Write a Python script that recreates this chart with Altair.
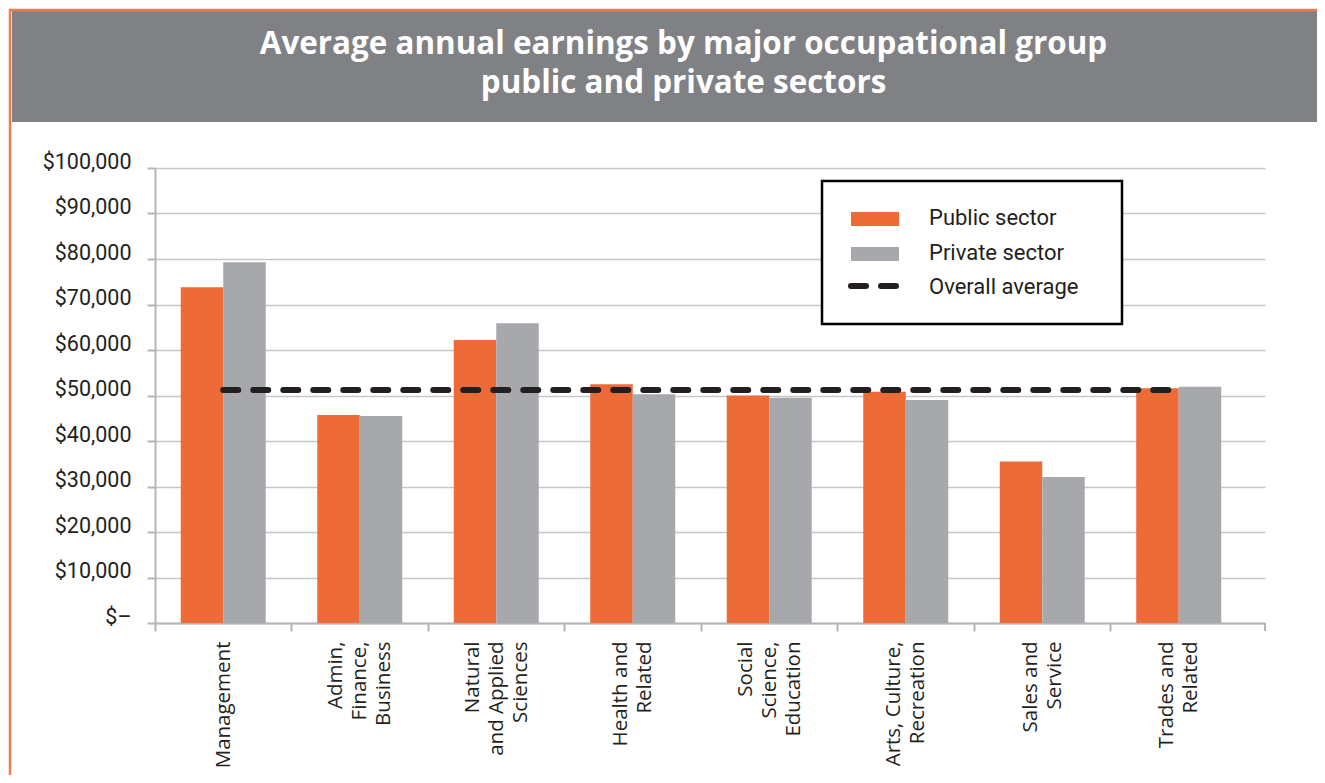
import altair as alt
import pandas as pd

# ---------------- data ----------------
categories = [
    "Management",
    "Admin,|Finance,|Business",
    "Natural|and Applied|Sciences",
    "Health and|Related",
    "Social|Science,|Education",
    "Arts, Culture,|Recreation",
    "Sales and|Service",
    "Trades and|Related",
]
public_sector = [73800, 45700, 62200, 52500, 50000, 50800, 35500, 51600]
private_sector = [79300, 45500, 65900, 50300, 49500, 49000, 32100, 51900]
overall_average = 51200
sectors = ["Public sector", "Private sector"]
y_ticks = [0, 10000, 20000, 30000, 40000, 50000, 60000, 70000, 80000, 90000, 100000]
title_lines = [
    "Average annual earnings by major occupational group",
    "public and private sectors",
]
legend_labels = ["Public sector", "Private sector", "Overall average"]

# ---------------- styles ----------------
W, H = 1110, 455
ORANGE = "#EC6B37"
GRAY = "#A7A8AB"
DARK = "#231F20"
HEAD = "#808185"
BORDER = "#EF7B4A"
AX = "#B4B5B8"
GRID = "#C6C7C9"
LINE_H = 24
HALF_STEP = 68.25

bars_df = pd.DataFrame({
    "category": categories * 2,
    "sector": [s for s in sectors for _ in categories],
    "value": public_sector + private_sector,
})
line_df = pd.DataFrame({"category": categories, "value": [overall_average] * len(categories)})
one = pd.DataFrame({"k": [0]})

x_enc = alt.X(
    "category:N",
    sort=categories,
    scale=alt.Scale(paddingInner=0, paddingOuter=0.066, align=0),
    axis=alt.Axis(
        title=None, labelAngle=270, labelAlign="right", labelBaseline="middle",
        labelExpr="split(datum.label, '|')", labelFont="Open Sans", labelFontSize=20.5,
        labelLineHeight=LINE_H, labelColor=DARK, labelPadding=10, labelOverlap=False,
        labelLimit=400, tickOffset=-HALF_STEP, tickSize=8, tickColor=AX, tickWidth=2,
        domainColor=AX, domainWidth=2, grid=False,
        labelOffset={
            "condition": [
                {"test": "length(split(datum.label, '|')) == 3", "value": HALF_STEP - LINE_H},
                {"test": "length(split(datum.label, '|')) == 2", "value": HALF_STEP - LINE_H / 2},
            ],
            "value": HALF_STEP,
        },
    ),
)
y_enc = alt.Y(
    "value:Q",
    scale=alt.Scale(domain=[0, 100000], nice=False),
    axis=alt.Axis(
        title=None, values=y_ticks,
        labelExpr="datum.value == 0 ? '$\u2013' : '$' + format(datum.value, ',')",
        labelFont="Roboto", labelFontSize=21.5, labelColor=DARK, labelPadding=16,
        labelBaseline="alphabetic", tickSize=8, tickColor=AX, tickWidth=2,
        domainColor=AX, domainWidth=2, gridColor=GRID, gridWidth=1.5,
    ),
)

bars = alt.Chart(bars_df).mark_bar().encode(
    x=x_enc,
    xOffset=alt.XOffset("sector:N", sort=sectors, scale=alt.Scale(paddingInner=0, paddingOuter=0.606)),
    y=y_enc,
    color=alt.Color("sector:N", sort=sectors, scale=alt.Scale(domain=sectors, range=[ORANGE, GRAY]), legend=None),
)

avg_line = alt.Chart(line_df).mark_line(
    color=DARK, strokeWidth=6, strokeDash=[15, 15], strokeCap="round"
).encode(x=alt.X("category:N", sort=categories), y=alt.Y("value:Q"))

# closing tick at the right end of the category axis
end_tick = alt.Chart(one).mark_rule(color=AX, strokeWidth=2).encode(
    x=alt.value(W), y=alt.value(H), y2=alt.value(H + 8)
)

# ---------------- header ----------------
header = alt.Chart(one).mark_rect(fill=HEAD).encode(
    x=alt.value(-143), x2=alt.value(1175), y=alt.value(-157), y2=alt.value(-46)
)
top_border = alt.Chart(one).mark_rule(color=BORDER, strokeWidth=2.5).encode(
    x=alt.value(-146), x2=alt.value(1175), y=alt.value(-158)
)
left_border = alt.Chart(one).mark_rule(color=BORDER, strokeWidth=2.5).encode(
    x=alt.value(-145), y=alt.value(-159), y2=alt.value(620)
)
title = alt.Chart(one).mark_text(
    font="Open Sans", fontSize=31.4, fontWeight="bold", color="white", align="center",
    baseline="alphabetic", lineBreak="\n", lineHeight=39,
).encode(x=alt.value(528.5), y=alt.value(-114), text=alt.value("\n".join(title_lines)))

# ---------------- legend ----------------
box = alt.Chart(one).mark_rect(fill="white", stroke="black", strokeWidth=2.5).encode(
    x=alt.value(667), x2=alt.value(967), y=alt.value(13), y2=alt.value(156)
)
sw1 = alt.Chart(one).mark_rect(fill=ORANGE).encode(
    x=alt.value(696), x2=alt.value(744), y=alt.value(44), y2=alt.value(58)
)
sw2 = alt.Chart(one).mark_rect(fill=GRAY).encode(
    x=alt.value(696), x2=alt.value(744), y=alt.value(79), y2=alt.value(93)
)
sw3 = alt.Chart(one).mark_rule(color=DARK, strokeWidth=6, strokeDash=[15, 15], strokeCap="round").encode(
    x=alt.value(696), x2=alt.value(741), y=alt.value(118)
)
legend_text = []
for lbl, yy in zip(legend_labels, [57, 92, 126]):
    legend_text.append(
        alt.Chart(one).mark_text(
            font="Roboto", fontSize=22, color=DARK, align="left", baseline="alphabetic"
        ).encode(x=alt.value(774), y=alt.value(yy), text=alt.value(lbl))
    )

chart = alt.layer(
    header, top_border, left_border, title, bars, avg_line, end_tick, box, sw1, sw2, sw3, *legend_text
).properties(
    width=W, height=H,
    padding={"left": 147, "top": 160, "right": 52, "bottom": 152},
    autosize=alt.AutoSizeParams(type="none"),
    background="white",
).configure_view(stroke=None)

chart.save("out.html", embed_options={"renderer": "svg", "actions": False})
